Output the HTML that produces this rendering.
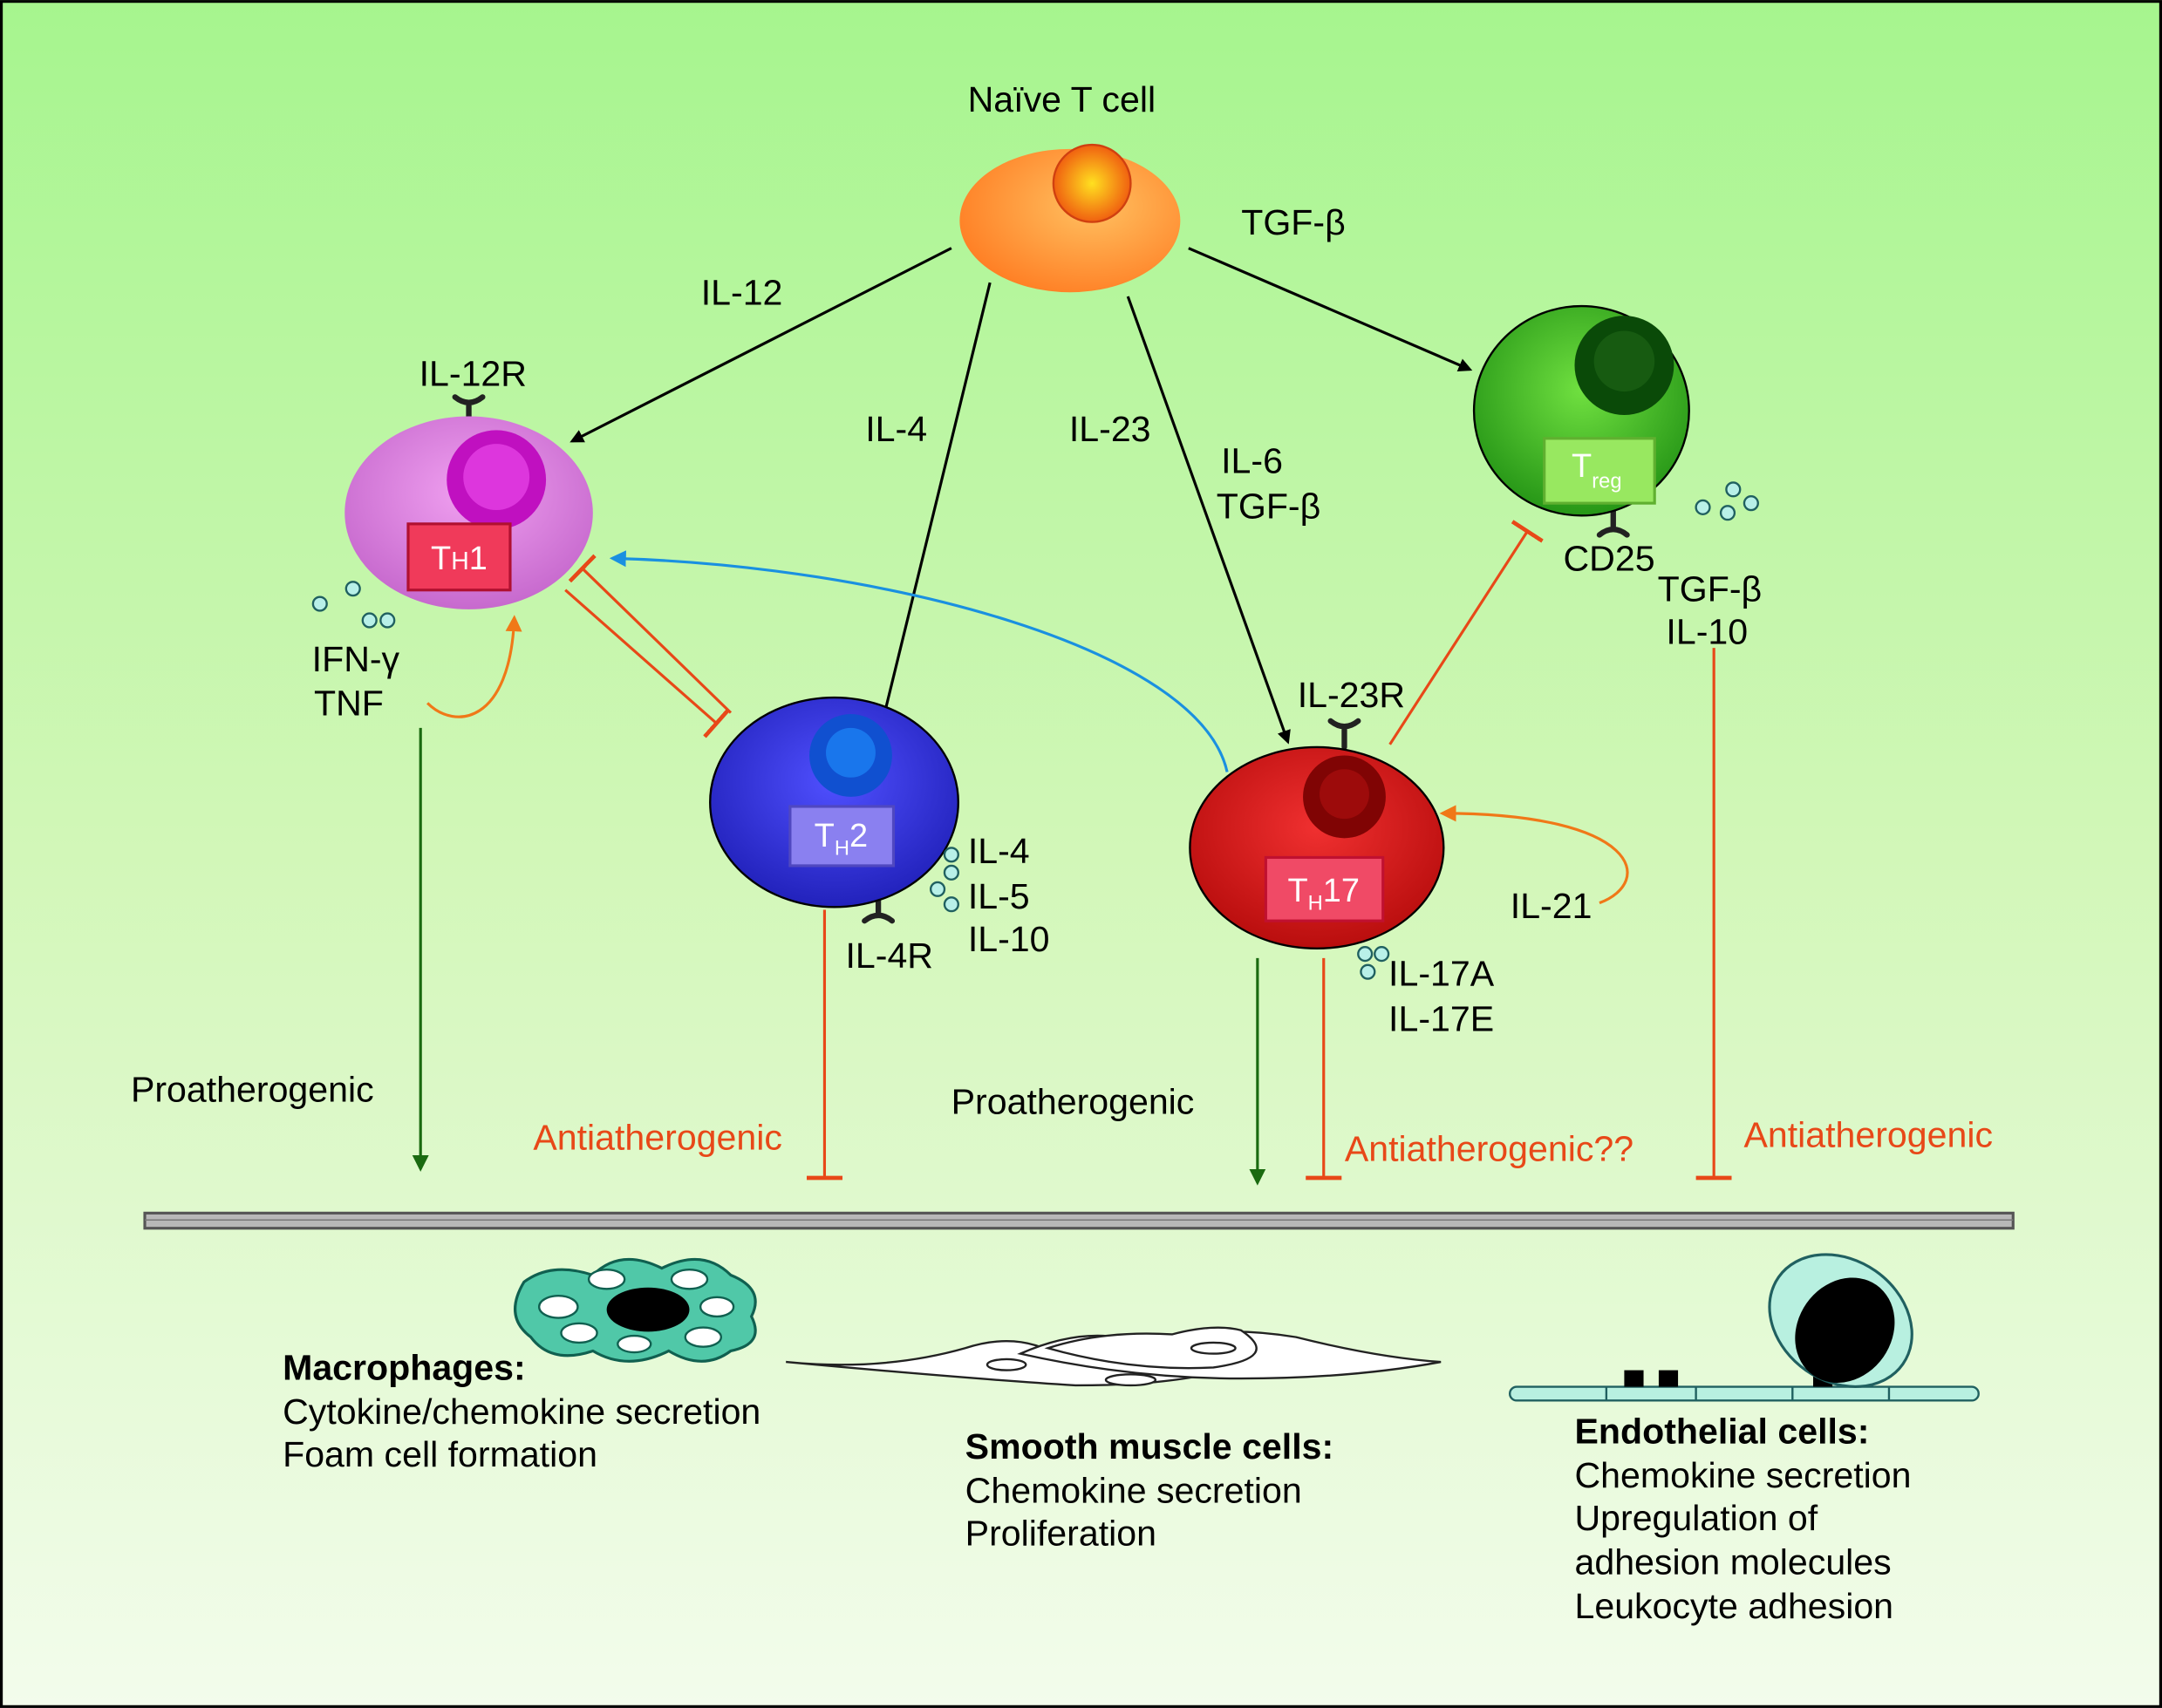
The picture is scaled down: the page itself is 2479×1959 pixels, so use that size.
<!DOCTYPE html>
<html><head><meta charset="utf-8"><style>
html,body{margin:0;padding:0;width:2479px;height:1959px;overflow:hidden;}
svg{display:block;}
text{font-family:"Liberation Sans",sans-serif;}
</style></head><body>
<svg width="2479" height="1959" viewBox="0 0 1568 1239" xmlns="http://www.w3.org/2000/svg">
<defs>
<linearGradient id="bg" x1="0" y1="0" x2="0" y2="1">
<stop offset="0" stop-color="#a6f58e"/><stop offset="0.5" stop-color="#d2f7b8"/><stop offset="1" stop-color="#f3fcec"/></linearGradient>
<radialGradient id="gN" cx="0.6" cy="0.4" r="0.7"><stop offset="0" stop-color="#ffc060"/><stop offset="1" stop-color="#ff7a20"/></radialGradient>
<radialGradient id="gNn" cx="0.5" cy="0.5" r="0.5"><stop offset="0" stop-color="#ffe020"/><stop offset="1" stop-color="#f06010"/></radialGradient>
<radialGradient id="g1" cx="0.5" cy="0.4" r="0.7"><stop offset="0" stop-color="#f0a0f0"/><stop offset="1" stop-color="#c060c8"/></radialGradient>
<radialGradient id="g2" cx="0.5" cy="0.4" r="0.7"><stop offset="0" stop-color="#5050ff"/><stop offset="1" stop-color="#1a1ab0"/></radialGradient>
<radialGradient id="g17" cx="0.5" cy="0.4" r="0.7"><stop offset="0" stop-color="#f03030"/><stop offset="1" stop-color="#b00808"/></radialGradient>
<radialGradient id="gT" cx="0.5" cy="0.4" r="0.7"><stop offset="0" stop-color="#70e040"/><stop offset="1" stop-color="#1a8a10"/></radialGradient>
<marker id="ab" markerWidth="10" markerHeight="10" refX="8" refY="5" orient="auto" markerUnits="userSpaceOnUse"><path d="M0,0 L10,5 L0,10 z" fill="#000"/></marker>
<marker id="ag" markerWidth="12" markerHeight="12" refX="10" refY="6" orient="auto" markerUnits="userSpaceOnUse"><path d="M0,0 L12,6 L0,12 z" fill="#1a6a10"/></marker>
<marker id="ao" markerWidth="12" markerHeight="12" refX="10" refY="6" orient="auto" markerUnits="userSpaceOnUse"><path d="M0,0 L12,6 L0,12 z" fill="#f07818"/></marker>
<marker id="abl" markerWidth="12" markerHeight="12" refX="10" refY="6" orient="auto" markerUnits="userSpaceOnUse"><path d="M0,0 L12,6 L0,12 z" fill="#1a90e0"/></marker>
<marker id="bar" markerWidth="4" markerHeight="26" refX="2" refY="13" orient="auto" markerUnits="userSpaceOnUse"><rect x="0" y="0" width="3" height="26" fill="#e84818"/></marker>
</defs>
<rect x="0" y="0" width="1568" height="1239" fill="url(#bg)"/>
<rect x="1" y="1" width="1566" height="1237" fill="none" stroke="#000" stroke-width="2"/>

<g stroke="#000" stroke-width="2" fill="none" marker-end="url(#ab)">
<line x1="690" y1="180" x2="415" y2="320"/>
<line x1="718" y1="205" x2="636" y2="540"/>
<line x1="818" y1="215" x2="934" y2="538"/>
<line x1="862" y1="180" x2="1066" y2="268"/>
</g>

<g stroke="#e84818" stroke-width="2" fill="none" marker-end="url(#bar)">
<line x1="530" y1="517" x2="422" y2="412"/>
<line x1="410" y1="428" x2="520" y2="525"/>
<line x1="1008" y1="540" x2="1108" y2="385"/>
<line x1="598" y1="660" x2="598" y2="855"/>
<line x1="960" y1="695" x2="960" y2="855"/>
<line x1="1243" y1="470" x2="1243" y2="855"/>
</g>
<g stroke="#1a6a10" stroke-width="2" marker-end="url(#ag)">
<line x1="305" y1="528" x2="305" y2="848"/>
<line x1="912" y1="695" x2="912" y2="858"/>
</g>
<path d="M890,560 C870,470 640,410 444,405" stroke="#1a90e0" stroke-width="2" fill="none" marker-end="url(#abl)"/>
<path d="M310,510 C330,530 370,525 373,448" stroke="#f07818" stroke-width="2" fill="none" marker-end="url(#ao)"/>
<path d="M1160,655 C1200,640 1190,590 1046,590" stroke="#f07818" stroke-width="2" fill="none" marker-end="url(#ao)"/>

<g stroke="#222" stroke-width="4" fill="none" stroke-linecap="round">
<path d="M330,288 Q340,296 350,288 M340,294 V302"/>
<path d="M965,523 Q975,531 985,523 M975,529 V542"/>
<path d="M627,668 Q637,660 647,668 M637,662 V650"/>
<path d="M1160,388 Q1170,380 1180,388 M1170,382 V370"/>
</g>

<ellipse cx="776" cy="160" rx="80" ry="52" fill="url(#gN)"/>
<circle cx="792" cy="133" r="28" fill="url(#gNn)" stroke="#d04010" stroke-width="1.5"/>

<ellipse cx="340" cy="372" rx="90" ry="70" fill="url(#g1)"/>
<circle cx="360" cy="348" r="36" fill="#c010c0"/><circle cx="360" cy="346" r="24" fill="#f050f0" opacity="0.6"/>
<rect x="296" y="380" width="74" height="48" fill="#f03a5a" stroke="#b01030" stroke-width="2"/>
<text x="333" y="413" font-size="24" fill="#fff" text-anchor="middle">T<tspan font-size="18">H</tspan>1</text>

<ellipse cx="605" cy="582" rx="90" ry="76" fill="url(#g2)" stroke="#000" stroke-width="1.5"/>
<circle cx="617" cy="548" r="30" fill="#1050d0"/><circle cx="617" cy="546" r="18" fill="#2090ff" opacity="0.6"/>
<rect x="573" y="585" width="75" height="43" fill="#8a80f0" stroke="#5048c0" stroke-width="2"/>
<text x="610" y="614" font-size="24" fill="#fff" text-anchor="middle">T<tspan font-size="15" dy="6">H</tspan><tspan dy="-6">2</tspan></text>

<ellipse cx="955" cy="615" rx="92" ry="73" fill="url(#g17)" stroke="#000" stroke-width="1.5"/>
<circle cx="975" cy="578" r="30" fill="#800404"/><circle cx="975" cy="576" r="18" fill="#b01010" opacity="0.6"/>
<rect x="918" y="622" width="85" height="46" fill="#f04a66" stroke="#c01030" stroke-width="2"/>
<text x="960" y="654" font-size="24" fill="#fff" text-anchor="middle">T<tspan font-size="15" dy="6">H</tspan><tspan dy="-6">17</tspan></text>

<ellipse cx="1147" cy="298" rx="78" ry="76" fill="url(#gT)" stroke="#000" stroke-width="1.5"/>
<circle cx="1178" cy="265" r="36" fill="#0a4a08"/><circle cx="1178" cy="262" r="22" fill="#206818" opacity="0.6"/>
<rect x="1120" y="318" width="80" height="47" fill="#98e860" stroke="#60b030" stroke-width="2"/>
<text x="1158" y="346" font-size="24" fill="#fff" text-anchor="middle">T<tspan font-size="15" dy="8">reg</tspan></text>

<g fill="#b8f0e8" stroke="#206060" stroke-width="1.5">
<circle cx="232" cy="438" r="5"/><circle cx="256" cy="427" r="5"/><circle cx="268" cy="450" r="5"/><circle cx="281" cy="450" r="5"/>
<circle cx="690" cy="620" r="5"/><circle cx="690" cy="633" r="5"/><circle cx="680" cy="645" r="5"/><circle cx="690" cy="656" r="5"/>
<circle cx="990" cy="692" r="5"/><circle cx="1002" cy="692" r="5"/><circle cx="992" cy="705" r="5"/>
<circle cx="1235" cy="368" r="5"/><circle cx="1257" cy="355" r="5"/><circle cx="1270" cy="365" r="5"/><circle cx="1253" cy="372" r="5"/>
</g>

<g font-size="26" fill="#000">
<text x="770" y="81" text-anchor="middle">Naïve T cell</text>
<text x="938" y="170" text-anchor="middle">TGF-β</text>
<text x="538" y="221" text-anchor="middle">IL-12</text>
<text x="650" y="320" text-anchor="middle">IL-4</text>
<text x="805" y="320" text-anchor="middle">IL-23</text>
<text x="908" y="343" text-anchor="middle">IL-6</text>
<text x="920" y="376" text-anchor="middle">TGF-β</text>
<text x="343" y="280" text-anchor="middle">IL-12R</text>
<text x="258" y="487" text-anchor="middle">IFN-γ</text>
<text x="253" y="519" text-anchor="middle">TNF</text>
<text x="980" y="513" text-anchor="middle">IL-23R</text>
<text x="1167" y="414" text-anchor="middle">CD25</text>
<text x="1240" y="436" text-anchor="middle">TGF-β</text>
<text x="1238" y="467" text-anchor="middle">IL-10</text>
<text x="702" y="626">IL-4</text>
<text x="702" y="659">IL-5</text>
<text x="702" y="690">IL-10</text>
<text x="645" y="702" text-anchor="middle">IL-4R</text>
<text x="1007" y="715">IL-17A</text>
<text x="1007" y="748">IL-17E</text>
<text x="1125" y="666" text-anchor="middle">IL-21</text>
<text x="183" y="799" text-anchor="middle">Proatherogenic</text>
<text x="778" y="808" text-anchor="middle">Proatherogenic</text>
</g>
<g font-size="26" fill="#e84818">
<text x="477" y="834" text-anchor="middle">Antiatherogenic</text>
<text x="1080" y="842" text-anchor="middle">Antiatherogenic??</text>
<text x="1355" y="832" text-anchor="middle">Antiatherogenic</text>
</g>

<rect x="105" y="880" width="1355" height="11" fill="#b8b8b8" stroke="#555" stroke-width="2"/>
<line x1="105" y1="885" x2="1460" y2="885" stroke="#777" stroke-width="1"/>

<path d="M380,930 Q400,915 430,925 Q450,905 480,920 Q510,905 530,925 Q555,935 545,955 Q555,975 530,980 Q510,995 485,980 Q455,995 430,980 Q400,990 385,970 Q365,955 380,930 Z" fill="#50c8a8" stroke="#106050" stroke-width="2"/>
<ellipse cx="470" cy="950" rx="30" ry="16" fill="#000"/>
<g fill="#fff" stroke="#106050" stroke-width="1.5">
<ellipse cx="405" cy="948" rx="14" ry="8"/><ellipse cx="420" cy="967" rx="13" ry="7"/><ellipse cx="440" cy="928" rx="13" ry="7"/>
<ellipse cx="500" cy="928" rx="13" ry="7"/><ellipse cx="520" cy="948" rx="12" ry="7"/><ellipse cx="510" cy="970" rx="13" ry="7"/><ellipse cx="460" cy="975" rx="12" ry="6"/>
</g>
<g fill="#fff" stroke="#222" stroke-width="1.5">
<path d="M570,988 Q640,995 700,978 Q740,965 770,985 Q830,1000 900,990 Q860,1005 780,1005 Q700,1000 570,988 Z"/>
<path d="M740,982 Q790,960 830,975 Q880,960 940,970 Q1000,985 1045,988 Q980,1000 900,1000 Q820,1000 740,982 Z"/>
<path d="M760,978 Q800,965 850,968 Q880,960 900,965 Q930,985 880,992 Q820,995 760,978 Z"/>
<ellipse cx="820" cy="1001" rx="18" ry="4"/><ellipse cx="880" cy="978" rx="16" ry="4"/><ellipse cx="730" cy="990" rx="14" ry="4"/>
</g>
<rect x="1095" y="1006" width="340" height="10" rx="5" fill="#b8f0e0" stroke="#206060" stroke-width="1.5"/>
<g stroke="#206060" stroke-width="1.5"><line x1="1165" y1="1006" x2="1165" y2="1016"/><line x1="1230" y1="1006" x2="1230" y2="1016"/><line x1="1300" y1="1006" x2="1300" y2="1016"/><line x1="1370" y1="1006" x2="1370" y2="1016"/></g>
<rect x="1178" y="994" width="14" height="12" fill="#000"/><rect x="1203" y="994" width="14" height="12" fill="#000"/>
<rect x="1315" y="996" width="14" height="10" fill="#000"/><rect x="1338" y="996" width="14" height="10" fill="#000"/>
<ellipse cx="1335" cy="958" rx="55" ry="44" transform="rotate(35 1335 958)" fill="#b8f0e0" stroke="#206060" stroke-width="2"/>
<ellipse cx="1338" cy="965" rx="34" ry="40" transform="rotate(35 1338 965)" fill="#000"/>

<g font-size="26" fill="#000">
<text x="205" y="1001" font-weight="bold">Macrophages:</text>
<text x="205" y="1033">Cytokine/chemokine secretion</text>
<text x="205" y="1064">Foam cell formation</text>
<text x="700" y="1058" font-weight="bold">Smooth muscle cells:</text>
<text x="700" y="1090">Chemokine secretion</text>
<text x="700" y="1121">Proliferation</text>
<text x="1142" y="1047" font-weight="bold">Endothelial cells:</text>
<text x="1142" y="1079">Chemokine secretion</text>
<text x="1142" y="1110">Upregulation of</text>
<text x="1142" y="1142">adhesion molecules</text>
<text x="1142" y="1174">Leukocyte adhesion</text>
</g>
</svg>
</body></html>
